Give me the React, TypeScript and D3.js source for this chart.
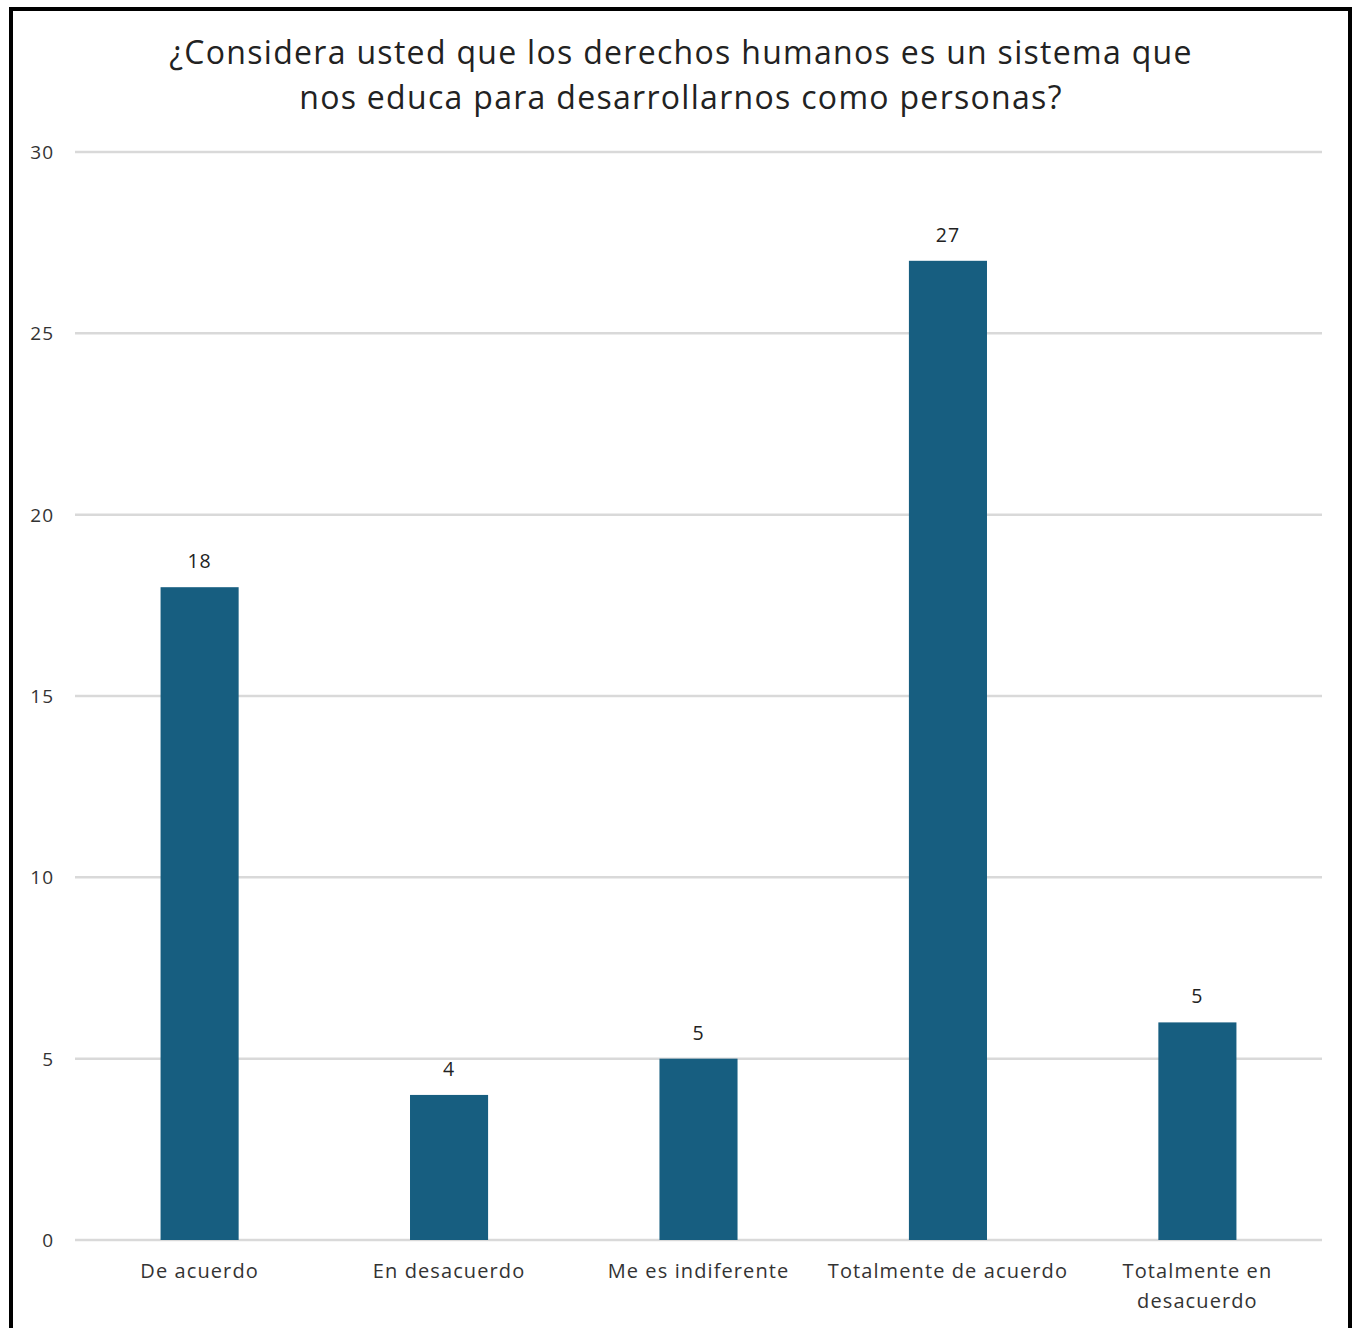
import React from "react";
import * as d3 from "d3";

const categories = ["De acuerdo", "En desacuerdo", "Me es indiferente", "Totalmente de acuerdo", "Totalmente en desacuerdo"];
const values = [18, 4, 5, 27, 6];
const dataLabels = ["18", "4", "5", "27", "5"];
const yTicks = [0, 5, 10, 15, 20, 25, 30];
const titleLines = ["¿Considera usted que los derechos humanos es un sistema que", "nos educa para desarrollarnos como personas?"];

const W = 1356, H = 1328;
const left = 75, right = 1322, top = 152, bottom = 1240;

export default function App() {
  const x = d3.scaleBand<string>().domain(categories).range([left, right]).paddingInner(0.687).paddingOuter(0.343);
  const y = d3.scaleLinear().domain([0, 30]).range([bottom, top]);
  const font = "'Open Sans', 'Noto Sans', sans-serif";
  const wrap = (s: string) => (s === "Totalmente en desacuerdo" ? ["Totalmente en", "desacuerdo"] : [s]);
  return (
    <svg width={W} height={H} style={{ position: "absolute", left: 0, top: 0, background: "#fff" }}>
      <rect x={0} y={0} width={W} height={H} fill="#fff" />
      <rect x={11} y={9} width={1339} height={1340} fill="none" stroke="#000" strokeWidth={4} />
      {titleLines.map((t, i) => (
        <text key={i} x={681} y={64 + i * 45} textAnchor="middle" fontFamily={font} fontSize={32} letterSpacing={1.3} fill="#222">{t}</text>
      ))}
      {yTicks.map((t) => (
        <g key={t}>
          <line x1={left} x2={right} y1={y(t)} y2={y(t)} stroke="#d9d9d9" strokeWidth={2.5} />
          <text x={54} y={y(t) + 7} textAnchor="end" fontFamily={font} fontSize={19} letterSpacing={1} fill="#333">{t}</text>
        </g>
      ))}
      {categories.map((c, i) => {
        const bx = x(c)!;
        const cx = bx + x.bandwidth() / 2;
        return (
          <g key={c}>
            <rect x={bx} y={y(values[i])} width={x.bandwidth()} height={y(0) - y(values[i])} fill="#175e80" />
            <text x={cx} y={y(values[i]) - 19} textAnchor="middle" fontFamily={font} fontSize={19.5} letterSpacing={1} fill="#222">{dataLabels[i]}</text>
            {wrap(c).map((l, j) => (
              <text key={j} x={cx} y={1278 + j * 30} textAnchor="middle" fontFamily={font} fontSize={20} letterSpacing={1.1} fill="#333">{l}</text>
            ))}
          </g>
        );
      })}
    </svg>
  );
}
